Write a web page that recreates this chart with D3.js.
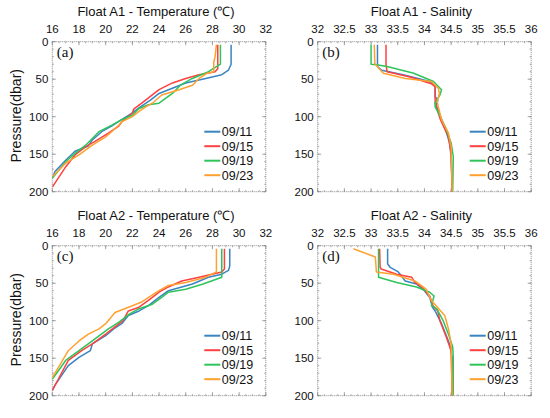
<!DOCTYPE html>
<html><head><meta charset="utf-8">
<script src="https://cdn.jsdelivr.net/npm/d3@7"></script>
<style>
body{margin:0;background:#fff;}
svg{display:block;font-family:Arial,"Liberation Sans",sans-serif;}
</style></head><body>
<svg id="c" width="550" height="418"></svg>
<script>
// ---- data ----
const dates = ["09/11","09/15","09/19","09/23"];
const colors = ["#3a84c0","#ff4040","#2fc45a","#ffa030"];
const pressureTicks = [0,50,100,150,200];
const tempTicks = [16,18,20,22,24,26,28,30,32];
const salTicks = [32,32.5,33,33.5,34,34.5,35,35.5,36];
const panelTitles = ["Float A1 - Temperature (\u2103)","Float A1 - Salinity","Float A2 - Temperature (\u2103)","Float A2 - Salinity"];
const panelLetters = ["(a)","(b)","(c)","(d)"];

// [value, pressure]
const a1T_0911 = [[29.4,4],[29.4,30],[29.2,38],[28.7,44],[27.5,49],[26.0,55],[25.0,62],[24.0,69],[23.35,78],[22.6,87],[22.0,95],[21.2,104],[20.5,112],[19.7,120],[19.0,131],[18.7,139],[17.7,146],[17.0,158],[16.2,173],[16.0,182]];
const a1T_0915 = [[28.4,4],[28.4,36],[28.2,40],[27.0,44],[26.0,49],[25.0,55],[24.0,64],[23.35,73],[22.7,82],[22.1,90],[22.0,95],[21.2,107],[20.95,113],[20.2,122],[19.2,133],[18.5,140],[17.7,151],[17.0,167],[16.0,194]];
const a1T_0919 = [[28.6,4],[28.6,30],[27.7,40],[26.5,49],[25.6,58],[25.0,69],[24.0,82],[23.2,84],[22.5,89],[22.0,98],[21.2,104],[20.5,111],[19.5,120],[19.0,129],[18.5,138],[17.7,149],[17.0,160],[16.0,182]];
const a1T_0923 = [[28.3,4],[28.2,20],[28.1,27],[28.1,40],[27.6,42],[27.0,49],[26.5,58],[25.5,64],[24.2,71],[23.5,82],[23.0,87],[22.5,93],[22.0,100],[21.2,107],[21.0,111],[20.0,127],[19.0,138],[18.0,151],[17.0,162],[16.0,180]];

const a1S_0911 = [[33.12,4],[33.12,33],[33.2,38],[33.6,44],[34.1,53],[34.2,60],[34.2,73],[34.25,78],[34.22,84],[34.3,100],[34.4,118],[34.47,135],[34.5,153],[34.52,200]];
const a1S_0915 = [[33.28,4],[33.28,31],[33.3,40],[33.73,47],[34.13,56],[34.2,60],[34.2,82],[34.3,104],[34.45,127],[34.5,149],[34.52,200]];
const a1S_0919 = [[33.0,4],[33.0,30],[33.13,31],[33.3,33],[33.8,42],[34.17,53],[34.32,64],[34.29,71],[34.2,82],[34.2,87],[34.3,100],[34.4,115],[34.5,135],[34.54,153],[34.53,200]];
const a1S_0923 = [[33.06,4],[33.07,29],[33.14,35],[33.23,42],[33.64,49],[34.13,53],[34.26,62],[34.28,69],[34.24,80],[34.26,87],[34.32,104],[34.45,122],[34.5,140],[34.52,200]];

const a2T_0911 = [[29.3,4],[29.3,27],[29.2,33],[28.7,38],[27.7,42],[26.5,51],[24.7,60],[24.0,69],[23.2,80],[22.5,87],[21.7,93],[21.2,104],[20.6,111],[20.0,120],[19.0,131],[18.85,140],[18.0,149],[17.2,160],[16.2,186],[16.0,193]];
const a2T_0915 = [[28.9,4],[28.9,31],[28.7,35],[27.0,42],[25.7,47],[24.7,55],[24.0,62],[23.5,69],[23.2,73],[22.5,82],[21.7,87],[21.3,100],[20.5,111],[20.0,118],[19.0,131],[18.2,140],[17.2,153],[16.0,193]];
const a2T_0919 = [[28.7,4],[28.7,42],[27.3,51],[26.0,58],[24.7,62],[24.2,69],[23.5,78],[22.5,84],[21.8,91],[21.0,102],[20.2,111],[19.0,127],[18.0,140],[17.0,153],[16.0,178]];
const a2T_0923 = [[28.3,4],[28.3,35],[27.5,42],[26.0,49],[24.7,53],[24.0,60],[22.7,75],[22.0,80],[20.7,89],[20.0,104],[19.5,111],[18.7,118],[18.0,127],[17.2,140],[16.0,176]];

const a2S_0911 = [[33.31,4],[33.31,24],[33.36,29],[33.51,35],[33.64,47],[33.85,51],[34.0,60],[34.1,69],[34.15,82],[34.2,87],[34.32,104],[34.4,118],[34.47,131],[34.52,149],[34.52,200]];
const a2S_0915 = [[33.16,4],[33.17,29],[33.19,31],[33.48,38],[33.76,42],[33.82,49],[33.95,55],[34.1,67],[34.16,80],[34.25,87],[34.29,100],[34.4,120],[34.5,140],[34.52,200]];
const a2S_0919 = [[33.14,4],[33.14,42],[33.48,49],[33.85,55],[34.1,62],[34.18,67],[34.13,80],[34.23,84],[34.35,100],[34.45,118],[34.53,135],[34.54,149],[34.54,200]];
const a2S_0923 = [[32.67,4],[33.08,15],[33.1,35],[33.42,38],[33.82,47],[34.03,58],[34.13,73],[34.38,93],[34.45,111],[34.5,131],[34.52,200]];

// ---- layout ----
const svg = d3.select("#c");
const W = 213.5, H = 150;
const panels = [
  {x:52.3, y:41.7, dom:[16,32], ticks:tempTicks, series:[a1T_0911,a1T_0915,a1T_0919,a1T_0923], ylab:true, minor:0.5, tw:160},
  {x:317.7, y:41.7, dom:[32,36], ticks:salTicks, series:[a1S_0911,a1S_0915,a1S_0919,a1S_0923], ylab:false, minor:0.125, tw:102},
  {x:52.3, y:245.7, dom:[16,32], ticks:tempTicks, series:[a2T_0911,a2T_0915,a2T_0919,a2T_0923], ylab:true, minor:0.5, tw:160},
  {x:317.7, y:245.7, dom:[32,36], ticks:salTicks, series:[a2S_0911,a2S_0915,a2S_0919,a2S_0923], ylab:false, minor:0.125, tw:102}
];

panels.forEach((p,i)=>{
  const g = svg.append("g").attr("transform",`translate(${p.x},${p.y})`);
  const x = d3.scaleLinear().domain(p.dom).range([0,W]);
  const y = d3.scaleLinear().domain([0,200]).range([0,H]);
  const clipId = "clip"+i;
  g.append("clipPath").attr("id",clipId).append("rect").attr("width",W).attr("height",H);

  // frame (dotted)
  g.append("rect").attr("width",W).attr("height",H)
    .attr("fill","none").attr("stroke","#8a8a8a").attr("stroke-width",1).attr("stroke-dasharray","1,1");

  // minor ticks
  const minorX = d3.range(p.dom[0], p.dom[1]+1e-9, p.minor);
  const minorY = d3.range(0, 200.001, 10);
  const tk = g.append("g").attr("stroke","#8a8a8a").attr("stroke-width",0.8);
  minorX.forEach(v=>{
    tk.append("line").attr("x1",x(v)).attr("x2",x(v)).attr("y1",0).attr("y2",1.5);
    tk.append("line").attr("x1",x(v)).attr("x2",x(v)).attr("y1",H).attr("y2",H-1.5);
  });
  minorY.forEach(v=>{
    tk.append("line").attr("y1",y(v)).attr("y2",y(v)).attr("x1",0).attr("x2",1.5);
    tk.append("line").attr("y1",y(v)).attr("y2",y(v)).attr("x1",W).attr("x2",W-1.5);
  });
  p.ticks.forEach(v=>{
    tk.append("line").attr("x1",x(v)).attr("x2",x(v)).attr("y1",0).attr("y2",3.5);
    tk.append("line").attr("x1",x(v)).attr("x2",x(v)).attr("y1",H).attr("y2",H-3.5);
  });
  pressureTicks.forEach(v=>{
    tk.append("line").attr("y1",y(v)).attr("y2",y(v)).attr("x1",0).attr("x2",3.5);
    tk.append("line").attr("y1",y(v)).attr("y2",y(v)).attr("x1",W).attr("x2",W-3.5);
  });

  // top axis labels
  g.selectAll(".xt").data(p.ticks).enter().append("text")
    .attr("x",d=>x(d)).attr("y",-9).attr("text-anchor","middle")
    .attr("font-size",11.5).attr("fill","#111").text(d=>d);
  // left axis labels
  g.selectAll(".yt").data(pressureTicks).enter().append("text")
    .attr("x",-4).attr("y",d=>y(d)).attr("dy","0.36em").attr("text-anchor","end")
    .attr("font-size",11.5).attr("fill","#111").text(d=>d);
  // title
  const t = g.append("text").attr("x",W/2-3).attr("y",-26).attr("text-anchor","middle")
    .attr("font-size",13).attr("fill","#111").text(panelTitles[i]);
  const natural = t.node().getComputedTextLength();
  if (Math.abs(natural - p.tw) > 4) t.attr("textLength",p.tw).attr("lengthAdjust","spacingAndGlyphs");
  // panel letter
  g.append("text").attr("x",4.5).attr("y",15.5)
    .attr("font-family","'Liberation Serif','Times New Roman',serif")
    .attr("font-size",15).attr("fill","#111").text(panelLetters[i]);
  // y label
  if(p.ylab){
    g.append("text").attr("transform",`translate(${15.7-p.x},${H/2-1}) rotate(-90)`)
      .attr("text-anchor","middle").attr("dy","0.35em")
      .attr("font-size",14).attr("fill","#111").text("Pressure(dbar)");
  }
  // lines
  const line = d3.line().x(d=>x(d[0])).y(d=>y(d[1]));
  const lg = g.append("g").attr("clip-path",`url(#${clipId})`);
  p.series.forEach((s,k)=>{
    lg.append("path").datum(s).attr("d",line).attr("fill","none")
      .attr("stroke",colors[k]).attr("stroke-width",1.5).attr("stroke-linejoin","round");
  });
  // legend
  dates.forEach((d,k)=>{
    const ly = 90 + k*14.5;
    g.append("line").attr("x1",152).attr("x2",168).attr("y1",ly).attr("y2",ly)
      .attr("stroke",colors[k]).attr("stroke-width",2);
    g.append("text").attr("x",169.5).attr("y",ly).attr("dy","0.36em")
      .attr("font-size",12.5).attr("fill","#111").text(d);
  });
});
</script></body></html>
